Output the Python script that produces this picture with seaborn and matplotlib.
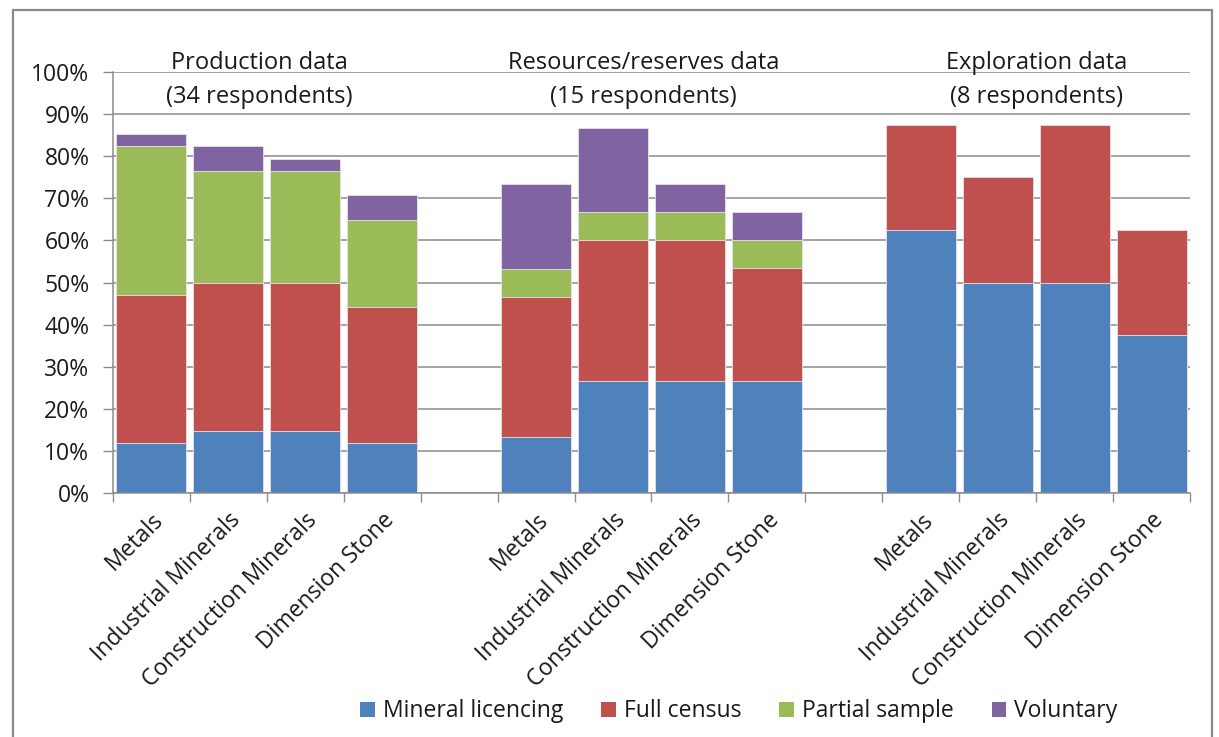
"""Stacked bars: how mineral statistics are collected, by data type and commodity."""
import matplotlib
matplotlib.use("Agg")
import matplotlib.pyplot as plt
from matplotlib.patches import Patch, Rectangle
from matplotlib.ticker import PercentFormatter
import pandas as pd
import seaborn as sns

# ---- data (percent of respondents) ----
categories = ["Metals", "Industrial Minerals", "Construction Minerals", "Dimension Stone"]
group_titles = [
    "Production data\n(34 respondents)",
    "Resources/reserves data\n(15 respondents)",
    "Exploration data\n(8 respondents)",
]
series_names = ["Mineral licencing", "Full census", "Partial sample", "Voluntary"]
series_colors = ["#4F81BD", "#C0504D", "#9BBB59", "#8064A2"]

licencing_prod = [11.8, 14.7, 14.7, 11.8]
census_prod = [35.3, 35.3, 35.3, 32.4]
partial_prod = [35.3, 26.5, 26.5, 20.6]
voluntary_prod = [2.9, 5.9, 2.9, 5.9]

licencing_res = [13.3, 26.7, 26.7, 26.7]
census_res = [33.3, 33.3, 33.3, 26.7]
partial_res = [6.7, 6.7, 6.7, 6.7]
voluntary_res = [20.0, 20.0, 6.7, 6.7]

licencing_expl = [62.5, 50.0, 50.0, 37.5]
census_expl = [25.0, 25.0, 37.5, 25.0]
partial_expl = [0.0, 0.0, 0.0, 0.0]
voluntary_expl = [0.0, 0.0, 0.0, 0.0]

# ---- tidy table ----
groups = [
    ("P", licencing_prod, census_prod, partial_prod, voluntary_prod),
    ("R", licencing_res, census_res, partial_res, voluntary_res),
    ("E", licencing_expl, census_expl, partial_expl, voluntary_expl),
]
rows = []
order = []
tick_labels = []
for gi, (key, lic, cen, par, vol) in enumerate(groups):
    for ci, cat in enumerate(categories):
        slot = f"{key}-{cat}"
        order.append(slot)
        tick_labels.append(cat)
        rows.append({
            "slot": slot,
            "c1": lic[ci],
            "c2": lic[ci] + cen[ci],
            "c3": lic[ci] + cen[ci] + par[ci],
            "c4": lic[ci] + cen[ci] + par[ci] + vol[ci],
        })
    if gi < len(groups) - 1:
        order.append(f"gap{gi}")  # empty slot between groups
        tick_labels.append("")
df = pd.DataFrame(rows)

# ---- plot ----
sns.set_theme(style="white")
plt.rcParams["font.family"] = ["Open Sans", "DejaVu Sans"]
FS = 16.5
TEXT = "#1A1A1A"

fig = plt.figure(figsize=(12.19, 7.37), dpi=100)
ax = fig.add_axes([0.0927, 0.331, 0.8835, 0.5713])

# draw cumulative totals from the top down so each layer overlays the previous
for col, color in zip(["c4", "c3", "c2", "c1"], series_colors[::-1]):
    sns.barplot(data=df, x="slot", y=col, order=order, color=color,
                width=0.91, saturation=1, edgecolor="#E8E4EE", linewidth=0.6, ax=ax)

ax.set_ylim(0, 100)
ax.set_xlim(-0.5, len(order) - 0.5)
ax.yaxis.set_major_locator(matplotlib.ticker.MultipleLocator(10))
ax.yaxis.set_major_formatter(PercentFormatter(decimals=0))
ax.set_xlabel("")
ax.set_ylabel("")
ax.set_axisbelow(True)
ax.grid(axis="y", color="#8C8C8C", linewidth=1.1)

# tick marks at slot boundaries, labels at bar centres
ax.set_xticks([i - 0.5 for i in range(len(order) + 1)])
ax.set_xticklabels([])
ax.set_xticks(range(len(order)), tick_labels, minor=True)
ax.tick_params(axis="x", which="major", direction="out", length=6.5, width=1, color="#8C8C8C", bottom=True)
ax.tick_params(axis="x", which="minor", length=0, pad=11, labelsize=FS, labelcolor=TEXT)
for lbl in ax.get_xticklabels(minor=True):
    lbl.set_rotation(45)
    lbl.set_ha("right")
    lbl.set_rotation_mode("anchor")
ax.tick_params(axis="y", direction="out", length=7, width=1, color="#8C8C8C", left=True,
               labelsize=FS, labelcolor=TEXT, pad=10)

for side in ["top", "right"]:
    ax.spines[side].set_visible(False)
for side in ["left", "bottom"]:
    ax.spines[side].set_color("#8C8C8C")
    ax.spines[side].set_linewidth(1.1)

# group titles
for x, title in zip([1.4, 6.4, 11.5], group_titles):
    ax.text(x, 98.2, title, ha="center", va="center", fontsize=17, linespacing=1.55,
            color=TEXT)

# legend
handles = [Patch(facecolor=c, edgecolor="none") for c in series_colors]
fig.legend(handles, series_names, loc="center", bbox_to_anchor=(0.606, 0.035), ncol=4,
           frameon=False, fontsize=FS, handlelength=0.65, handleheight=0.65,
           handletextpad=0.35, columnspacing=1.65, labelcolor=TEXT)

# chart frame
fig.patches.append(Rectangle((13 / 1219, -0.05), 1199 / 1219, 1.05 - 10 / 737,
                             transform=fig.transFigure, fill=False,
                             edgecolor="#8A8A8A", linewidth=1.6))

fig.savefig("out.png", dpi=100)
